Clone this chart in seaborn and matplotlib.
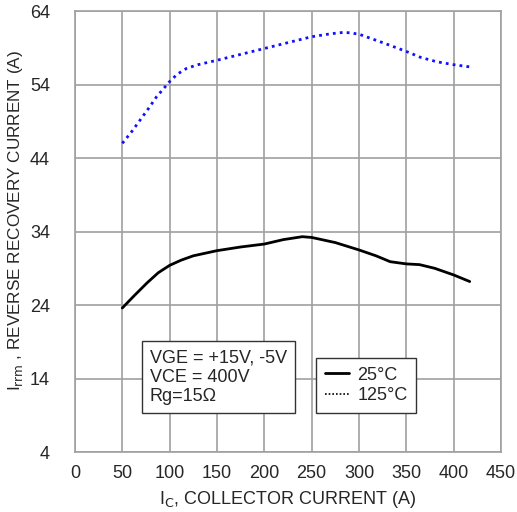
import matplotlib
matplotlib.use("Agg")
import matplotlib.pyplot as plt
import seaborn as sns
import pandas as pd
from matplotlib.lines import Line2D

sns.set_style("white")
plt.rcParams['font.family'] = ['Liberation Sans', 'DejaVu Sans']

ic_25 = [50, 62, 76, 88, 100, 112, 125, 150, 175, 200, 220, 240, 250, 275, 300, 318, 333, 350, 364, 380, 400, 417]
irr_25 = [23.6, 25.2, 27.0, 28.4, 29.4, 30.1, 30.7, 31.4, 31.9, 32.3, 32.9, 33.3, 33.2, 32.5, 31.5, 30.7, 29.9, 29.6, 29.5, 29.0, 28.1, 27.2]

ic_125 = [50, 60, 69, 78, 86, 94, 100, 108, 118, 130, 150, 175, 200, 225, 250, 270, 284, 293, 301, 325, 350, 365, 382, 400, 417]
irr_125 = [46.0, 47.6, 49.2, 50.8, 52.3, 53.5, 54.4, 55.4, 56.2, 56.7, 57.3, 58.1, 58.9, 59.7, 60.5, 60.9, 61.1, 61.0, 60.8, 59.7, 58.5, 57.7, 57.1, 56.7, 56.4]

x_ticks = [0, 50, 100, 150, 200, 250, 300, 350, 400, 450]
y_ticks = [4, 14, 24, 34, 44, 54, 64]

fig = plt.figure(figsize=(5.17, 5.12), dpi=100)
ax = fig.add_axes([0.145, 0.117, 0.824, 0.8615])

df25 = pd.DataFrame({"x": ic_25, "y": irr_25})
df125 = pd.DataFrame({"x": ic_125, "y": irr_125})
sns.lineplot(data=df25, x="x", y="y", ax=ax, color="black", lw=2.0, sort=False)
sns.lineplot(data=df125, x="x", y="y", ax=ax, color="#1010ff", lw=2.0, linestyle=(0, (1, 1.5)), sort=False)

ax.set_xlim(0, 450)
ax.set_ylim(4, 64)
ax.set_xticks(x_ticks)
ax.set_yticks(y_ticks)
ax.tick_params(axis='x', labelsize=13, length=0, pad=9)
ax.tick_params(axis='y', labelsize=13, length=0, pad=18)
ax.grid(True, color="#a0a0a0", lw=1.2)
for s in ax.spines.values():
    s.set_color("#a0a0a0")
    s.set_linewidth(1.2)

ax.set_xlabel(r"I$_{\rm C}$, COLLECTOR CURRENT (A)", fontsize=13, labelpad=5)
ax.set_ylabel(r"I$_{\rm rrm}$ , REVERSE RECOVERY CURRENT (A)", fontsize=12.3)
ax.yaxis.set_label_coords(-0.117, 0.526)

ax.text(0.176, 0.2335, "VGE = +15V, -5V\nVCE = 400V\nRg=15\u03a9", transform=ax.transAxes,
        fontsize=13, va="top", ha="left", linespacing=1.2,
        bbox=dict(boxstyle="square,pad=0.45", fc="white", ec="#333333", lw=1.0))

handles = [Line2D([], [], color="black", lw=2.0),
           Line2D([], [], color="black", lw=1.2, linestyle=(0, (1, 1.2)))]
leg = ax.legend(handles, ["25\u00b0C", "125\u00b0C"], loc="upper left",
                bbox_to_anchor=(0.565, 0.2138), fontsize=13, frameon=True,
                fancybox=False, edgecolor="#333333", framealpha=1,
                handlelength=1.35, handletextpad=0.45, borderpad=0.5, labelspacing=0.2,
                borderaxespad=0)
leg.get_frame().set_linewidth(1.0)

fig.savefig("out.png", dpi=100)
